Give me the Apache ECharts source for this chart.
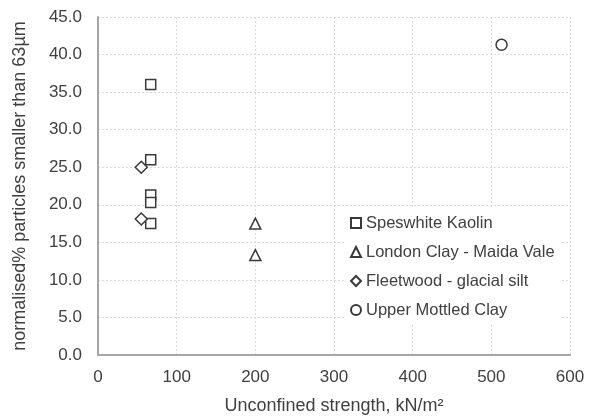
<!DOCTYPE html>
<html>
<head>
<meta charset="utf-8">
<script src="https://cdn.jsdelivr.net/npm/echarts@6/dist/echarts.min.js"></script>
<style>html,body{margin:0;padding:0;background:#fff;}#c{width:598px;height:416px;}</style>
</head>
<body>
<div id="c"></div>
<script>
const seriesNames = ['Speswhite Kaolin', 'London Clay - Maida Vale', 'Fleetwood - glacial silt', 'Upper Mottled Clay'];
const speswhiteX = [67, 67, 67, 67, 67];
const speswhiteY = [36.0, 26.0, 21.3, 20.3, 17.5];
const londonX = [200, 200];
const londonY = [17.5, 13.3];
const fleetwoodX = [55, 55];
const fleetwoodY = [25.0, 18.1];
const mottledX = [513];
const mottledY = [41.3];
const symbols = ['rect', 'triangle', 'diamond', 'circle'];

const xs = [speswhiteX, londonX, fleetwoodX, mottledX];
const ys = [speswhiteY, londonY, fleetwoodY, mottledY];
const sizes = [10, 11, 12, 11];

const font = 'Liberation Sans, Arial, sans-serif';
const txt = '#404040';

const chart = echarts.init(document.getElementById('c'), null, {renderer: 'canvas'});
chart.setOption({
  animation: false,
  backgroundColor: '#fff',
  grid: {left: 98, right: 28, top: 17, bottom: 61, containLabel: false, outerBoundsMode: 'none'},
  legend: {
    orient: 'vertical', left: 345, top: 209, padding: [5, 6, 5, 5],
    backgroundColor: '#fff', itemWidth: 10, itemHeight: 10, itemGap: 11,
    textStyle: {fontFamily: font, fontSize: 16.5, color: txt, lineHeight: 18},
    data: seriesNames
  },
  xAxis: {
    type: 'value', min: 0, max: 600, interval: 100,
    name: 'Unconfined strength, kN/m²', nameLocation: 'middle', nameGap: 42,
    nameTextStyle: {fontFamily: font, fontSize: 18, color: txt},
    axisLine: {show: true, onZero: false, lineStyle: {color: '#a6a6a6', width: 2}},
    axisTick: {show: false},
    axisLabel: {fontFamily: font, fontSize: 17, color: txt, margin: 14},
    splitLine: {show: true, lineStyle: {color: '#d9d9d9', type: [2, 2], width: 1}}
  },
  yAxis: {
    type: 'value', min: 0, max: 45, interval: 5,
    name: 'normalised% particles smaller than 63µm', nameLocation: 'middle', nameGap: 69, nameRotate: 90,
    nameTextStyle: {fontFamily: font, fontSize: 18, color: txt},
    axisLine: {show: true, onZero: false, lineStyle: {color: '#a6a6a6', width: 2}},
    axisTick: {show: false},
    axisLabel: {fontFamily: font, fontSize: 17, color: txt, margin: 16, formatter: v => v.toFixed(1)},
    splitLine: {show: true, lineStyle: {color: '#d9d9d9', type: [2, 2], width: 1}}
  },
  series: seriesNames.map((n, i) => ({
    name: n, type: 'scatter', symbol: symbols[i], symbolSize: sizes[i],
    itemStyle: {color: '#fff', borderColor: '#3a3a3a', borderWidth: 1.5, opacity: 1},
    data: xs[i].map((x, j) => [x, ys[i][j]])
  }))
});
</script>
</body>
</html>
